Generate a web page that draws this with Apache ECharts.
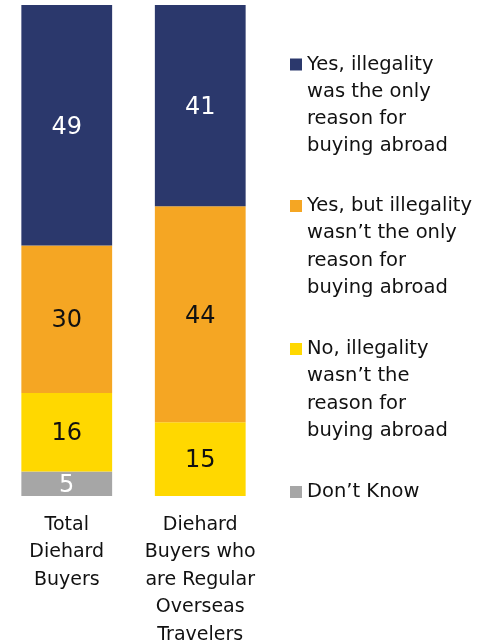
<!DOCTYPE html>
<html>
<head>
<meta charset="utf-8">
<script src="https://cdn.jsdelivr.net/npm/echarts@6/dist/echarts.min.js"></script>
<style>
html,body{margin:0;padding:0;background:#fff;}
#chart{width:489px;height:642px;}
</style>
</head>
<body>
<div id="chart"></div>
<script>
const categories = ['Total\nDiehard\nBuyers', 'Diehard\nBuyers who\nare Regular\nOverseas\nTravelers'];
const legendLabels = [
  "Yes, illegality\nwas the only\nreason for\nbuying abroad",
  "Yes, but illegality\nwasn\u2019t the only\nreason for\nbuying abroad",
  "No, illegality\nwasn\u2019t the\nreason for\nbuying abroad",
  "Don\u2019t Know"
];
const onlyReason = [49, 41];
const notOnlyReason = [30, 44];
const notReason = [16, 15];
const dontKnow = [5, 0];
const colors = { only: '#2B386C', notOnly: '#F5A623', not: '#FFD800', dk: '#A6A6A6' };

const FONT = 'DejaVu Sans';
const nameOf = { only: legendLabels[0], notOnly: legendLabels[1], not: legendLabels[2], dk: legendLabels[3] };

function mkSeries(key, data, labelColor) {
  return {
    name: nameOf[key], type: 'bar', stack: 'total', data: data, barWidth: '68%',
    itemStyle: { color: colors[key] },
    label: {
      show: true, position: 'inside', color: labelColor, fontFamily: FONT, fontSize: 24,
      offset: [0, 2],
      formatter: p => p.value ? String(p.value) : ''
    }
  };
}

const iconCenters = [64.5, 206, 349, 492];
const LH = 27.3;
const legends = legendLabels.map((lab, i) => {
  const lines = lab.split('\n').length;
  const total = 2 * lines - 1;
  return {
    left: 290, top: iconCenters[i] - total * LH / 2, padding: 0,
    orient: 'vertical', icon: 'rect', itemWidth: 12, itemHeight: 12, itemGap: 0,
    selectedMode: false,
    data: [{ name: lab }],
    formatter: n => '\n'.repeat(lines - 1) + n,
    textStyle: { fontFamily: FONT, fontSize: 19.5, color: '#111', lineHeight: LH }
  };
});

const chart = echarts.init(document.getElementById('chart'));
chart.setOption({
  animation: false,
  backgroundColor: '#fff',
  grid: { left: 0, width: 267, top: 5, bottom: 146, containLabel: false, outerBoundsMode: 'none' },
  legend: legends,
  xAxis: {
    type: 'category', data: categories,
    axisLine: { show: false }, axisTick: { show: false },
    axisLabel: { interval: 0, margin: 15, fontFamily: FONT, fontSize: 19, color: '#111', lineHeight: 27.5, align: 'center', verticalAlign: 'top' }
  },
  yAxis: { type: 'value', min: 0, max: 100, show: false },
  series: [
    mkSeries('dk', dontKnow, '#fff'),
    mkSeries('not', notReason, '#111'),
    mkSeries('notOnly', notOnlyReason, '#111'),
    mkSeries('only', onlyReason, '#fff')
  ]
});
</script>
</body>
</html>
